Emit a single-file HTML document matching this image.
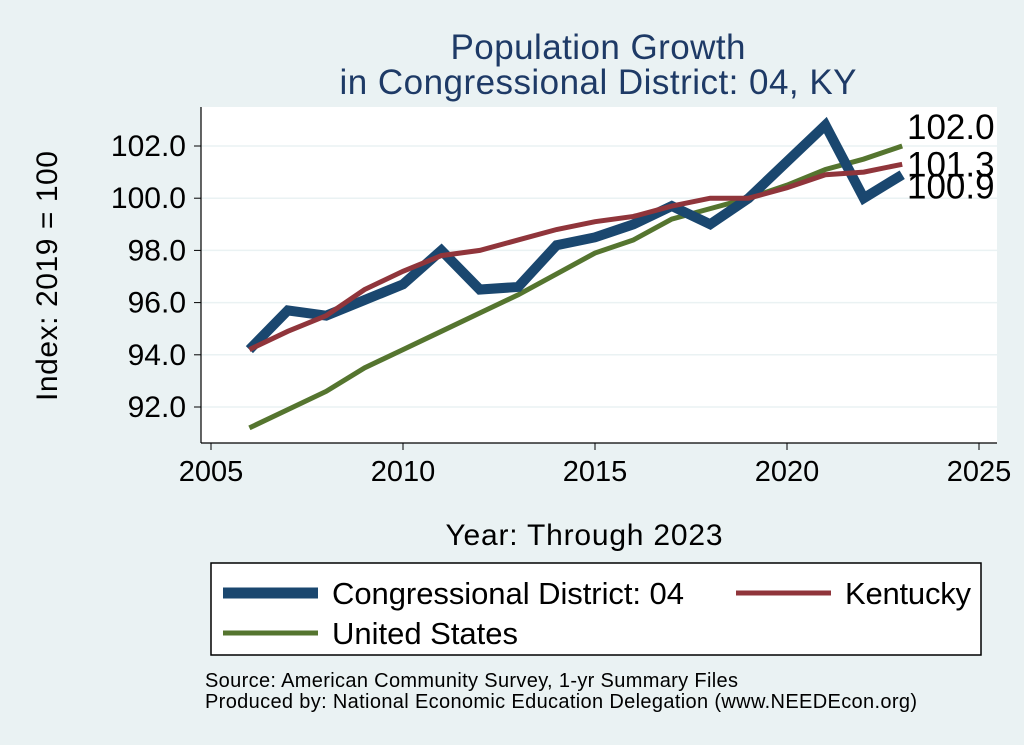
<!DOCTYPE html>
<html><head><meta charset="utf-8"><style>
body{margin:0;background:#eaf2f3;}
svg{display:block;font-family:"Liberation Sans",Arial,sans-serif;}
</style></head><body>
<svg id="chart" width="1024" height="745">
<rect x="0" y="0" width="1024" height="745" fill="#eaf2f3"/>
<text x="598" y="59" text-anchor="middle" font-size="35" fill="#1e3a66" textLength="295">Population Growth</text>
<text x="598" y="94" text-anchor="middle" font-size="35" fill="#1e3a66" textLength="517">in Congressional District: 04, KY</text>
<rect x="201" y="107" width="796" height="336" fill="#fff"/>
<g id="grid"></g><g id="series"></g><g id="axes"></g>
<text transform="translate(57,276) rotate(-90)" text-anchor="middle" font-size="30" textLength="250">Index: 2019 = 100</text>
<text x="584" y="545" text-anchor="middle" font-size="30" textLength="277">Year: Through 2023</text>
<g>
<rect x="211" y="563" width="770" height="92" fill="#fff" stroke="#000" stroke-width="1.5"/>
<line x1="223" y1="593" x2="318" y2="593" stroke="#1a476f" stroke-width="11"/>
<text x="332" y="604" font-size="31" textLength="352">Congressional District: 04</text>
<line x1="736" y1="593" x2="831" y2="593" stroke="#90353b" stroke-width="5"/>
<text x="845" y="604" font-size="31" textLength="126">Kentucky</text>
<line x1="223" y1="633" x2="318" y2="633" stroke="#55752f" stroke-width="5"/>
<text x="332" y="644" font-size="31" textLength="186">United States</text>
</g>
<text x="205" y="687" font-size="20" textLength="533">Source: American Community Survey, 1-yr Summary Files</text>
<text x="205" y="708" font-size="20" textLength="712">Produced by: National Economic Education Delegation (www.NEEDEcon.org)</text>
</svg>
<script>
const years=[2006,2007,2008,2009,2010,2011,2012,2013,2014,2015,2016,2017,2018,2019,2020,2021,2022,2023];
const district=[94.2,95.7,95.5,96.1,96.7,98.0,96.5,96.6,98.2,98.5,99.0,99.7,99.0,100.0,101.4,102.8,100.0,100.9];
const kentucky=[94.2,94.9,95.5,96.5,97.2,97.8,98.0,98.4,98.8,99.1,99.3,99.7,100.0,100.0,100.4,100.9,101.0,101.3];
const unitedStates=[91.2,91.9,92.6,93.5,94.2,94.9,95.6,96.3,97.1,97.9,98.4,99.2,99.6,100.0,100.5,101.1,101.5,102.0];
const yTicks=[92,94,96,98,100,102];
const xTicks=[2005,2010,2015,2020,2025];
const NS="http://www.w3.org/2000/svg";
const xs=v=>211+(v-2005)*38.4;
const ys=v=>146+(102-v)*26.1;
function mk(t,a,p){const e=document.createElementNS(NS,t);for(const k in a)e.setAttribute(k,a[k]);p.appendChild(e);return e;}
const grid=document.getElementById('grid'),axes=document.getElementById('axes'),ser=document.getElementById('series');
yTicks.forEach(v=>{
 const g=mk('line',{x1:201,x2:997,y1:ys(v),y2:ys(v),stroke:'#eaf2f3','stroke-width':1.5},grid);
 
 
 mk('line',{x1:194,x2:201,y1:ys(v),y2:ys(v),stroke:'#000'},axes);
 const t=mk('text',{x:186,y:ys(v)+10,'text-anchor':'end','font-size':30},axes);
 t.textContent=v.toFixed(1);
 
 
});
mk('line',{x1:201,x2:201,y1:107,y2:443,stroke:'#000','stroke-width':1.2},axes);
mk('line',{x1:201,x2:997,y1:443,y2:443,stroke:'#000','stroke-width':1.2},axes);
xTicks.forEach(v=>{
 mk('line',{x1:xs(v),x2:xs(v),y1:443,y2:450,stroke:'#000'},axes);
 const t=mk('text',{x:xs(v),y:481,'text-anchor':'middle','font-size':29},axes);
 t.textContent=v;
 
 
});
function line(vals,col,w,name){
 const p=mk('polyline',{points:vals.map((v,i)=>xs(years[i])+','+ys(v)).join(' '),fill:'none',stroke:col,'stroke-width':w,'stroke-linejoin':'miter'},ser);
 
 
}
line(unitedStates,'#55752f',5,'line-united-states');
line(district,'#1a476f',10,'line-district');
line(kentucky,'#90353b',5,'line-kentucky');
const last=years.length-1;
[[unitedStates,-7,'label-us-last'],[kentucky,12,'label-kentucky-last'],[district,24,'label-district-last']].forEach(([a,dy,n])=>{
 const t=mk('text',{x:907,y:ys(a[last])+dy,'font-size':35},ser);
 t.textContent=a[last].toFixed(1);
 
 
});
</script>
</body></html>
